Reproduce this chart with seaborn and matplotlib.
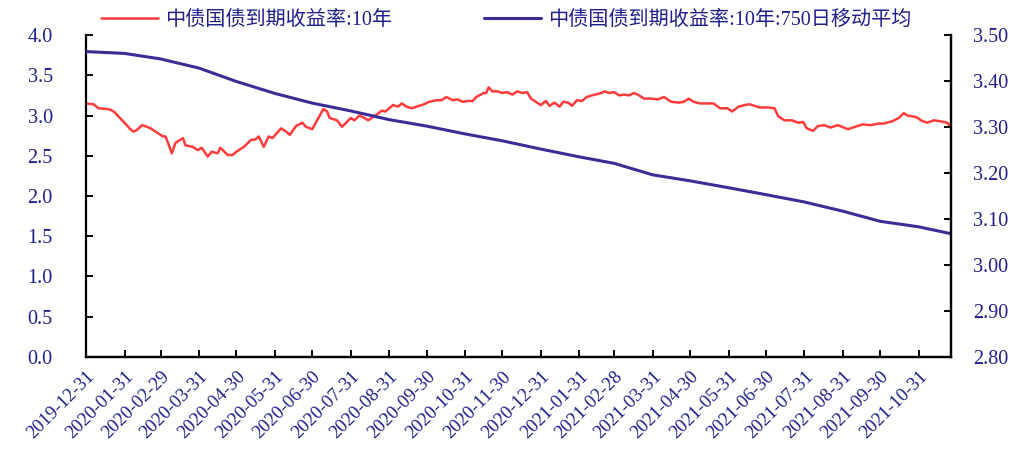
"""
China 10Y government bond yield vs its 750-day moving average
"""
import matplotlib.pyplot as plt
import matplotlib.dates as mdates
import pandas as pd
import seaborn as sns

sns.set_style("ticks")
plt.rcParams["font.family"] = ["Liberation Serif", "Noto Sans CJK SC"]
plt.rcParams["axes.unicode_minus"] = False

TEXT_COLOR = "#1f1f8c"
RED = "#ff3b3b"
BLUE = "#3a2e96"

yield_dates = [
    "2019-12-31", "2020-01-06", "2020-01-10", "2020-01-17", "2020-01-20",
    "2020-01-23", "2020-02-03", "2020-02-04", "2020-02-07", "2020-02-10",
    "2020-02-14", "2020-02-18", "2020-02-21", "2020-02-25", "2020-03-02",
    "2020-03-04", "2020-03-06", "2020-03-09", "2020-03-12", "2020-03-16",
    "2020-03-18", "2020-03-20", "2020-03-26", "2020-03-30", "2020-04-02",
    "2020-04-07", "2020-04-10", "2020-04-15", "2020-04-17", "2020-04-23",
    "2020-04-27", "2020-04-30", "2020-05-06", "2020-05-12", "2020-05-15",
    "2020-05-18", "2020-05-22", "2020-05-26", "2020-05-29", "2020-06-05",
    "2020-06-09", "2020-06-12", "2020-06-17", "2020-06-22", "2020-06-25",
    "2020-06-30", "2020-07-05", "2020-07-09", "2020-07-12", "2020-07-14",
    "2020-07-20", "2020-07-24", "2020-07-28", "2020-07-31", "2020-08-03",
    "2020-08-07", "2020-08-11", "2020-08-14", "2020-08-19", "2020-08-25",
    "2020-08-28", "2020-09-03", "2020-09-07", "2020-09-10", "2020-09-14",
    "2020-09-18", "2020-09-22", "2020-09-28", "2020-10-02", "2020-10-08",
    "2020-10-12", "2020-10-16", "2020-10-21", "2020-10-25", "2020-10-29",
    "2020-11-02", "2020-11-06", "2020-11-09", "2020-11-15", "2020-11-17",
    "2020-11-19", "2020-11-22", "2020-11-26", "2020-11-30", "2020-12-04",
    "2020-12-08", "2020-12-12", "2020-12-16", "2020-12-20", "2020-12-23",
    "2020-12-27", "2020-12-31", "2021-01-04", "2021-01-07", "2021-01-11",
    "2021-01-15", "2021-01-18", "2021-01-22", "2021-01-25", "2021-01-29",
    "2021-02-02", "2021-02-06", "2021-02-10", "2021-02-18", "2021-02-20",
    "2021-02-24", "2021-02-28", "2021-03-04", "2021-03-08", "2021-03-12",
    "2021-03-16", "2021-03-20", "2021-03-24", "2021-03-30", "2021-04-04",
    "2021-04-09", "2021-04-15", "2021-04-21", "2021-04-25", "2021-04-29",
    "2021-05-03", "2021-05-08", "2021-05-12", "2021-05-19", "2021-05-24",
    "2021-05-30", "2021-06-03", "2021-06-08", "2021-06-13", "2021-06-17",
    "2021-06-25", "2021-07-02", "2021-07-07", "2021-07-10", "2021-07-15",
    "2021-07-21", "2021-07-26", "2021-07-30", "2021-08-02", "2021-08-07",
    "2021-08-11", "2021-08-16", "2021-08-21", "2021-08-27", "2021-09-04",
    "2021-09-10", "2021-09-16", "2021-09-22", "2021-09-29", "2021-10-03",
    "2021-10-10", "2021-10-15", "2021-10-19", "2021-10-22", "2021-10-29",
    "2021-11-03", "2021-11-07", "2021-11-12", "2021-11-17", "2021-11-23",
    "2021-11-26",
]
yield_values = [
    3.15, 3.14, 3.09, 3.08, 3.07,
    3.04, 2.86, 2.84, 2.80, 2.82,
    2.88, 2.86, 2.84, 2.80, 2.74,
    2.74, 2.66, 2.53, 2.66, 2.70,
    2.72, 2.63, 2.61, 2.57, 2.60,
    2.49, 2.55, 2.53, 2.60, 2.51,
    2.51, 2.55, 2.61, 2.70, 2.70,
    2.74, 2.61, 2.74, 2.72, 2.84,
    2.80, 2.76, 2.87, 2.91, 2.86,
    2.83, 2.97, 3.08, 3.05, 2.97,
    2.94, 2.86, 2.92, 2.97, 2.94,
    3.00, 2.97, 2.94, 2.99, 3.06,
    3.05, 3.13, 3.11, 3.15, 3.11,
    3.09, 3.11, 3.14, 3.17, 3.19,
    3.19, 3.23, 3.19, 3.20, 3.17,
    3.18, 3.18, 3.23, 3.28, 3.28,
    3.35, 3.30, 3.30, 3.28, 3.29,
    3.26, 3.30, 3.28, 3.29, 3.21,
    3.17, 3.13, 3.18, 3.12, 3.16,
    3.11, 3.17, 3.16, 3.12, 3.19,
    3.18, 3.23, 3.25, 3.28, 3.30,
    3.28, 3.29, 3.25, 3.26, 3.25,
    3.28, 3.25, 3.21, 3.21, 3.20,
    3.23, 3.17, 3.16, 3.17, 3.21,
    3.17, 3.15, 3.15, 3.15, 3.09,
    3.09, 3.05, 3.11, 3.13, 3.14,
    3.10, 3.10, 3.09, 2.99, 2.94,
    2.94, 2.91, 2.92, 2.84, 2.81,
    2.87, 2.88, 2.85, 2.88, 2.83,
    2.86, 2.89, 2.88, 2.90, 2.90,
    2.93, 2.97, 3.03, 3.00, 2.98,
    2.93, 2.91, 2.94, 2.93, 2.91,
    2.85,
]

ma_dates = [
    "2019-12-31", "2020-01-31", "2020-02-29", "2020-03-31", "2020-04-30",
    "2020-05-31", "2020-06-30", "2020-07-31", "2020-08-31", "2020-09-30",
    "2020-10-31", "2020-11-30", "2020-12-31", "2021-01-31", "2021-02-28",
    "2021-03-31", "2021-04-30", "2021-05-31", "2021-06-30", "2021-07-31",
    "2021-08-31", "2021-09-30", "2021-10-31", "2021-11-26",
]
ma_values = [
    3.464, 3.460, 3.448, 3.428, 3.399,
    3.373, 3.352, 3.335, 3.316, 3.302,
    3.285, 3.270, 3.252, 3.235, 3.221,
    3.196, 3.183, 3.168, 3.153, 3.137,
    3.117, 3.095, 3.083, 3.068,
]

tick_dates = ma_dates[:-1]

LABEL_YIELD = "中债国债到期收益率:10年"
LABEL_MA = "中债国债到期收益率:10年:750日移动平均"

yield_df = pd.DataFrame({"date": pd.to_datetime(yield_dates), "value": yield_values})
ma_df = pd.DataFrame({"date": pd.to_datetime(ma_dates), "value": ma_values})

fig = plt.figure(figsize=(10.13, 4.62), dpi=100)
ax = fig.add_axes([0.0849, 0.2273, 0.8539, 0.6969])
ax2 = ax.twinx()

sns.lineplot(data=yield_df, x="date", y="value", ax=ax, color=RED, lw=1.8,
             label=LABEL_YIELD, legend=False)
sns.lineplot(data=ma_df, x="date", y="value", ax=ax2, color=BLUE, lw=2.2,
             label=LABEL_MA, legend=False)

ax.set_xlim(pd.Timestamp(yield_dates[0]), pd.Timestamp(yield_dates[-1]))
ax.set_ylim(0, 4.0)
ax2.set_ylim(2.80, 3.50)
ax.set_yticks([i * 0.5 for i in range(9)])
ax2.set_yticks([2.80 + i * 0.1 for i in range(8)])
ax.yaxis.set_major_formatter(plt.FormatStrFormatter("%.1f"))
ax2.yaxis.set_major_formatter(plt.FormatStrFormatter("%.2f"))

ax.set_xticks(pd.to_datetime(tick_dates))
ax.xaxis.set_major_formatter(mdates.DateFormatter("%Y-%m-%d"))
for lbl in ax.get_xticklabels():
    lbl.set_rotation(45)
    lbl.set_ha("right")
    lbl.set_rotation_mode("anchor")

for a in (ax, ax2):
    a.set_xlabel("")
    a.set_ylabel("")
    a.spines["top"].set_visible(False)
    for side in ("left", "right", "bottom"):
        a.spines[side].set_linewidth(1.6)
        a.spines[side].set_color("black")
    a.tick_params(direction="in", length=5, width=1.4, colors="black",
                  labelcolor=TEXT_COLOR, labelsize=14.5)
    a.grid(False)
ax.tick_params(axis="y", pad=24)
ax2.tick_params(axis="y", pad=16)
ax.tick_params(axis="x", pad=8, labelsize=13.5)
ax2.spines["left"].set_visible(False)

handles = ax.get_lines()[:1] + ax2.get_lines()[:1]
leg = fig.legend(handles, [LABEL_YIELD, LABEL_MA], loc="upper left",
                 bbox_to_anchor=(0.082, 1.015), ncol=2, frameon=False,
                 fontsize=14.5, handlelength=2.8, columnspacing=4.6,
                 handletextpad=0.35)
for txt in leg.get_texts():
    txt.set_color(TEXT_COLOR)

fig.savefig("out.png", dpi=100)
